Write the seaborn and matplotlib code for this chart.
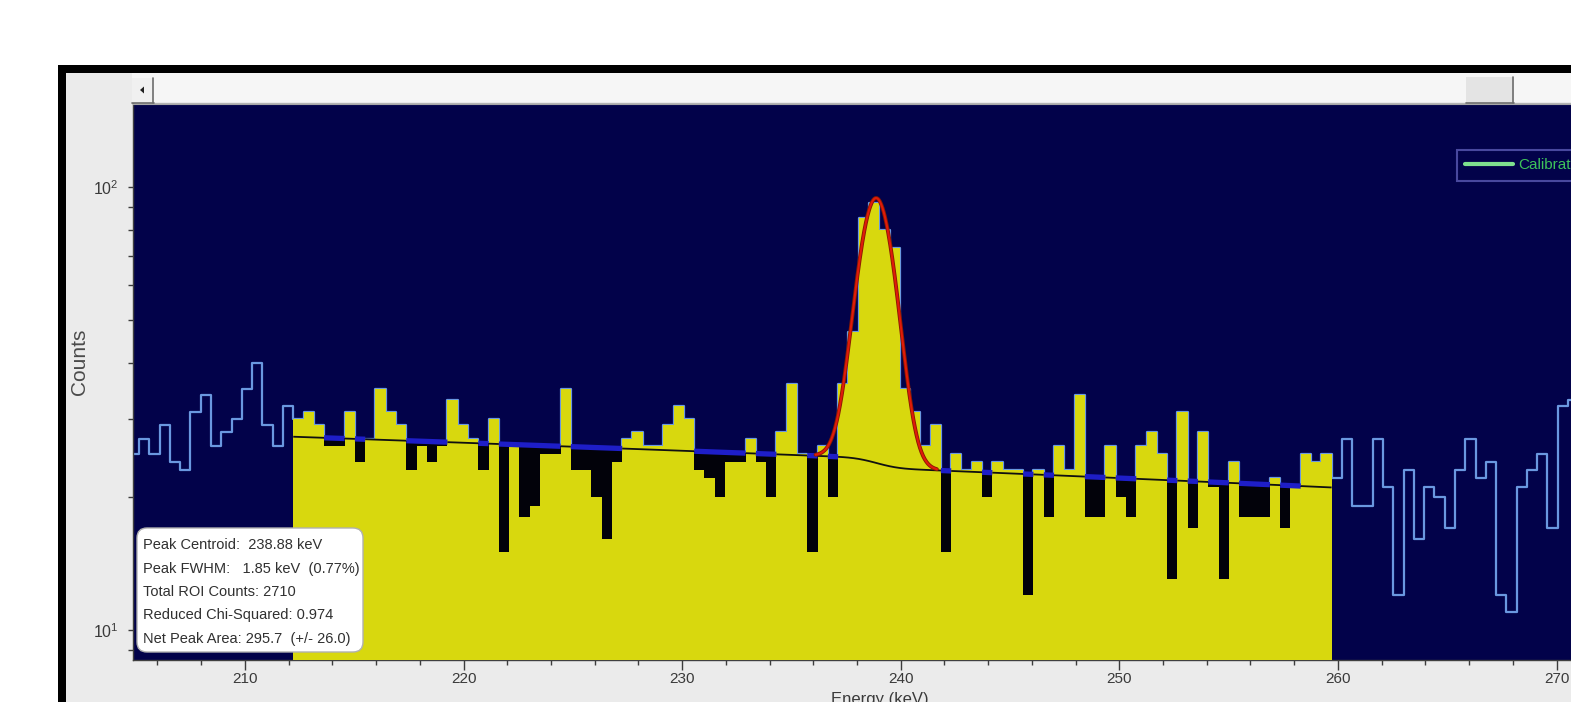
import math
import numpy as np
import pandas as pd
import matplotlib
matplotlib.use("Agg")
import matplotlib.pyplot as plt
import matplotlib.transforms as mtransforms
from matplotlib import font_manager
from matplotlib.patches import Rectangle, FancyBboxPatch, Polygon
from matplotlib.lines import Line2D
from matplotlib.ticker import LogLocator, MultipleLocator, NullFormatter, FixedLocator
import seaborn as sns

# ---------------- spectrum (counts per channel) ----------------
channel_width_kev = 0.4703
roi_start_kev = 212.21

counts_low = [25, 27, 25, 29, 24, 23, 31, 34, 26, 28, 30, 35, 40, 29, 26, 32]

counts_roi = [30, 31, 29, 26, 26, 31, 24, 27, 35, 31,
              29, 23, 26, 24, 26, 33, 29, 27, 23, 30,
              15, 26, 18, 19, 25, 25, 35, 23, 23, 20,
              16, 24, 27, 28, 26, 26, 29, 32, 30, 23,
              22, 20, 24, 24, 27, 24, 20, 28, 36, 25,
              15, 26, 20, 36, 47, 85, 92, 80, 73, 35,
              31, 26, 29, 15, 25, 23, 24, 20, 24, 23,
              23, 12, 23, 18, 26, 23, 34, 18, 18, 26,
              20, 18, 26, 28, 25, 13, 31, 17, 28, 21,
              13, 24, 18, 18, 18, 22, 17, 21, 25, 24, 25]

counts_high = [22, 27, 19, 19, 27, 21, 12, 23, 16, 21,
               20, 17, 23, 27, 22, 24, 12, 11, 21, 23,
               25, 17, 32, 33]

# continuum under the region of interest: linear trend plus a smoothed step
continuum_at_start = 27.3
continuum_slope = -0.108
continuum_step = 1.2

# fit summary
peak_centroid = 238.88
peak_fwhm = 1.85
peak_fwhm_pct = 0.77
total_roi_counts = 2710
reduced_chi2 = 0.974
net_peak_area = 295.7
net_peak_area_err = 26.0

x_tick_values = [210, 220, 230, 240, 250, 260, 270]
legend_label = "Calibration"

# ---------------- derived quantities ----------------
n_low = len(counts_low)
n_roi = len(counts_roi)
counts_all = np.array(counts_low + counts_roi + counts_high, dtype=float)
edges = roi_start_kev + channel_width_kev * np.arange(-n_low, len(counts_all) - n_low + 1)
centers = 0.5 * (edges[:-1] + edges[1:])
roi_edges = edges[n_low:n_low + n_roi + 1]
roi_centers = centers[n_low:n_low + n_roi]
roi_counts = counts_all[n_low:n_low + n_roi]

erf = np.vectorize(math.erf)
sigma = peak_fwhm / (2.0 * math.sqrt(2.0 * math.log(2.0)))


def continuum(e):
    e = np.asarray(e, dtype=float)
    linear = continuum_at_start + continuum_slope * (e - roi_start_kev)
    step = continuum_step * 0.5 * (1.0 + erf((e - peak_centroid) / (sigma * math.sqrt(2.0))))
    return linear - step


peak_amp = net_peak_area * channel_width_kev / (sigma * math.sqrt(2.0 * math.pi))
fit_e = np.linspace(peak_centroid - 1.5 * peak_fwhm, peak_centroid + 1.5 * peak_fwhm, 300)
fit_y = continuum(fit_e) + peak_amp * np.exp(-0.5 * ((fit_e - peak_centroid) / sigma) ** 2)

# ---------------- fonts / style ----------------
available = {f.name for f in font_manager.fontManager.ttflist}
base_font = "Liberation Sans Narrow" if "Liberation Sans Narrow" in available else "Liberation Sans"
sns.set_style("ticks")
plt.rcParams["font.family"] = [base_font, "DejaVu Sans"]
plt.rcParams["mathtext.fontset"] = "custom"
plt.rcParams["mathtext.rm"] = base_font
plt.rcParams["mathtext.it"] = base_font
plt.rcParams["mathtext.bf"] = base_font

NAVY = "#02024a"
YELLOW = "#d8d80e"
OUTLINE = "#6a98e0"
DIP = "#02020a"
CONT_BLUE = "#1e1ec8"
FIT_RED = "#e01a0a"
PANEL = "#ebebeb"
TEXT = "#3a3a3a"

W, H = 1571, 702
fig = plt.figure(figsize=(W / 100, H / 100), dpi=100, facecolor="white")
px = mtransforms.Affine2D().scale(1.0 / W, -1.0 / H).translate(0, 1) + fig.transFigure

# window frame, panel and scroll bar
fig.add_artist(Rectangle((58, 65), 3000, 2000, transform=px, facecolor="black",
                         edgecolor="none", zorder=-5))
fig.add_artist(Rectangle((66, 73), 3000, 2000, transform=px, facecolor=PANEL,
                         edgecolor="none", zorder=-4))
fig.add_artist(Rectangle((132, 73), 3000, 30, transform=px, facecolor="#f6f6f6",
                         edgecolor="none", zorder=-3))
fig.add_artist(Line2D([132, 3000], [103, 103], transform=px, color="#b4b4b4", lw=1, zorder=-2))
# left arrow button
fig.add_artist(Rectangle((132, 78), 22, 25, transform=px, facecolor="#f0f0f0",
                         edgecolor="none", zorder=-2))
fig.add_artist(Line2D([153.5, 153.5], [78, 103], transform=px, color="#6e6e6e", lw=1.2, zorder=-1))
fig.add_artist(Line2D([132, 154], [102.5, 102.5], transform=px, color="#6e6e6e", lw=1.2, zorder=-1))
fig.add_artist(Polygon([[140, 90], [144, 86.5], [144, 93.5]], closed=True, transform=px,
                       facecolor="#202020", edgecolor="none", zorder=-1))
# scroll thumb
fig.add_artist(Rectangle((1466, 77), 48, 26, transform=px, facecolor="#e4e4e4",
                         edgecolor="none", zorder=-2))
fig.add_artist(Line2D([1513.5, 1513.5], [77, 103], transform=px, color="#6e6e6e", lw=1.2, zorder=-1))
fig.add_artist(Line2D([1466, 1514], [102.5, 102.5], transform=px, color="#6e6e6e", lw=1.2, zorder=-1))

# plot area
px_per_kev = 21.86
x_min, x_max = 204.88, 272.0
y_min, y_max = 8.55, 154.0
ax_left, ax_top, ax_bottom = 133, 104, 660
ax_w = (x_max - x_min) * px_per_kev
ax = fig.add_axes([ax_left / W, 1 - ax_bottom / H, ax_w / W, (ax_bottom - ax_top) / H])
ax.set_facecolor(NAVY)

spectrum = pd.DataFrame({"energy": centers, "counts": counts_all})
roi_df = pd.DataFrame({"energy": roi_centers, "counts": roi_counts})

# full spectrum outline
sns.histplot(data=spectrum, x="energy", weights="counts", bins=edges.tolist(), element="step",
             fill=False, color=OUTLINE, linewidth=1.6, ax=ax, zorder=2)
# region of interest fill
sns.histplot(data=roi_df, x="energy", weights="counts", bins=roi_edges.tolist(), element="step",
             fill=True, color=YELLOW, alpha=1.0, linewidth=0, ax=ax, zorder=3)

# channels that fall below the continuum
bg_centers = continuum(roi_centers)
dip = roi_counts < bg_centers
ax.bar(roi_centers[dip], bg_centers[dip] - roi_counts[dip], bottom=roi_counts[dip],
       width=channel_width_kev, color=DIP, edgecolor="none", zorder=4)

# continuum line: blue over the deficit channels, thin black elsewhere
rows = []
run = 0
for i in range(n_roi):
    if i > 0 and dip[i] != dip[i - 1]:
        run += 1
    for e in (roi_edges[i], roi_centers[i], roi_edges[i + 1]):
        rows.append({"energy": e, "bg": float(continuum(e)), "run": run, "dip": bool(dip[i])})
cont_df = pd.DataFrame(rows)
sns.lineplot(data=cont_df[cont_df["dip"]], x="energy", y="bg", units="run", estimator=None,
             color=CONT_BLUE, linewidth=3.8, sort=False, solid_capstyle="butt", ax=ax, zorder=5)
sns.lineplot(data=cont_df[~cont_df["dip"]], x="energy", y="bg", units="run", estimator=None,
             color="#101010", linewidth=1.3, sort=False, solid_capstyle="butt", ax=ax, zorder=5)

# peak fit
fit_df = pd.DataFrame({"energy": fit_e, "fit": fit_y})
sns.lineplot(data=fit_df, x="energy", y="fit", color="#8a1a00", linewidth=2.8, ax=ax, zorder=6)
sns.lineplot(data=fit_df, x="energy", y="fit", color=FIT_RED, linewidth=1.5, ax=ax, zorder=7)

ax.set_yscale("log")
ax.set_xlim(x_min, x_max)
ax.set_ylim(y_min, y_max)
ax.set_xlabel("")
ax.set_ylabel("")

ax.xaxis.set_major_locator(FixedLocator(x_tick_values))
ax.set_xticklabels([str(v) for v in x_tick_values])
ax.xaxis.set_minor_locator(MultipleLocator(2))
ax.yaxis.set_major_locator(LogLocator(base=10))
ax.yaxis.set_minor_locator(LogLocator(base=10, subs=np.arange(2, 10)))
ax.yaxis.set_minor_formatter(NullFormatter())

ax.tick_params(axis="x", which="major", length=7.2, width=1, color="#3c3c3c", direction="out",
               pad=1.5, labelsize=11, labelcolor=TEXT)
ax.tick_params(axis="x", which="minor", length=3.6, width=1, color="#3c3c3c", direction="out")
ax.tick_params(axis="y", which="both", length=3.6, width=1, color="#3c3c3c", direction="out",
               pad=7, labelsize=11.5, labelcolor=TEXT)

for side in ("left", "bottom"):
    ax.spines[side].set_color("#404040")
    ax.spines[side].set_linewidth(1)
ax.spines["top"].set_color("#a8a8a8")
ax.spines["right"].set_visible(False)

# legend
handle = Line2D([], [], color="#7ee08e", linewidth=3)
leg = ax.legend([handle], [legend_label], loc="upper left",
                bbox_to_anchor=((1457 - ax_left) / ax_w, (ax_bottom - 150) / (ax_bottom - ax_top)),
                frameon=True, fancybox=False, facecolor=NAVY, edgecolor="#5a5ab4",
                fontsize=11, labelcolor="#3ec25a", handlelength=3.1, handletextpad=0.35,
                borderpad=0.55, borderaxespad=0)
leg.get_frame().set_linewidth(1.5)

# axis titles
fig.text(80, 362, "Counts", transform=px, rotation=90, ha="center", va="center",
         fontsize=15, color="#4a4a4a")
fig.text(880, 692, "Energy (keV)", transform=px, ha="center", va="top",
         fontsize=12, color=TEXT)

# fit summary box
fig.add_artist(FancyBboxPatch((137, 528), 226, 124, transform=px,
                              boxstyle="round,pad=0,rounding_size=10",
                              facecolor="white", edgecolor="#b0b0b0", linewidth=1, zorder=8))
summary_lines = [
    f"Peak Centroid:  {peak_centroid:.2f} keV",
    f"Peak FWHM:   {peak_fwhm:.2f} keV  ({peak_fwhm_pct:.2f}%)",
    f"Total ROI Counts: {total_roi_counts}",
    f"Reduced Chi-Squared: {reduced_chi2:.3f}",
    f"Net Peak Area: {net_peak_area:.1f}  (+/- {net_peak_area_err:.1f})",
]
for i, line in enumerate(summary_lines):
    fig.text(143, 549 + 23.5 * i, line, transform=px, ha="left", va="baseline",
             fontsize=10.5, color="#303030", zorder=9)

fig.savefig("out.png", dpi=100, facecolor="white")
